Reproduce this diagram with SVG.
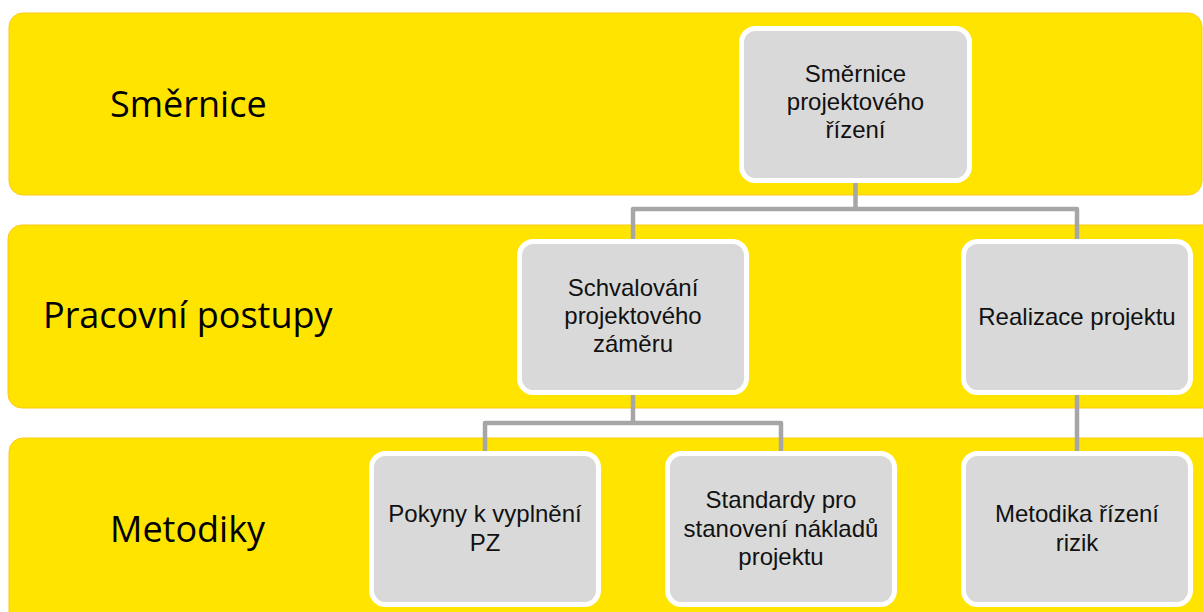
<svg xmlns="http://www.w3.org/2000/svg" width="1203" height="612" viewBox="0 0 1203 612">
<style>
.band{fill:#FFE400;stroke:#FFC814;stroke-width:1}
.node{fill:#D9D9D9;stroke:#FFFFFF;stroke-width:5}
.lbl{font-family:"Open Sans","Noto Sans","Liberation Sans",sans-serif;font-size:36px;fill:#000}
.nt{font-family:"Liberation Sans",Arial,sans-serif;font-size:24px;fill:#111;text-anchor:middle}
.conn{fill:none;stroke:#A6A6A6;stroke-width:4.5;stroke-linejoin:round}
</style>
<rect width="1203" height="612" fill="#FFFFFF"/>
<g id="bands">
<rect class="band" x="9" y="13" width="1193" height="182" rx="14"/>
<rect class="band" x="8" y="225" width="1220" height="183" rx="14"/>
<rect class="band" x="9" y="438" width="1220" height="200" rx="14"/>
<text class="lbl" x="110" y="117">Směrnice</text>
<text class="lbl" x="43" y="328">Pracovní postupy</text>
<text class="lbl" x="110" y="542">Metodiky</text>
</g>
<g id="connectors">
<path class="conn" d="M855.5 183 V209 H633 V239 M855.5 209 H1077 V239"/>
<path class="conn" d="M633 395 V423 H485 V451 M633 423 H781 V451"/>
<path class="conn" d="M1077 395 V451"/>
</g>
<g id="n1">
<rect class="node" x="741.5" y="28.5" width="228" height="152" rx="14"/>
<text class="nt" x="855.5" y="82">Směrnice</text>
<text class="nt" x="855.5" y="110">projektového</text>
<text class="nt" x="855.5" y="138">řízení</text>
</g>
<g id="n2">
<rect class="node" x="519.5" y="241.5" width="227" height="151" rx="14"/>
<text class="nt" x="633" y="296">Schvalování</text>
<text class="nt" x="633" y="324">projektového</text>
<text class="nt" x="633" y="352">záměru</text>
</g>
<g id="n3">
<rect class="node" x="963.5" y="241.5" width="227" height="151" rx="14"/>
<text class="nt" x="1077" y="325">Realizace projektu</text>
</g>
<g id="n4">
<rect class="node" x="371.5" y="453.5" width="227" height="151" rx="14"/>
<text class="nt" x="485" y="522">Pokyny k vyplnění</text>
<text class="nt" x="485" y="551">PZ</text>
</g>
<g id="n5">
<rect class="node" x="667.5" y="453.5" width="227" height="151" rx="14"/>
<text class="nt" x="781" y="508">Standardy pro</text>
<text class="nt" x="781" y="537">stanovení nákladů</text>
<text class="nt" x="781" y="565">projektu</text>
</g>
<g id="n6">
<rect class="node" x="963.5" y="453.5" width="227" height="151" rx="14"/>
<text class="nt" x="1077" y="522">Metodika řízení</text>
<text class="nt" x="1077" y="551">rizik</text>
</g>
</svg>
